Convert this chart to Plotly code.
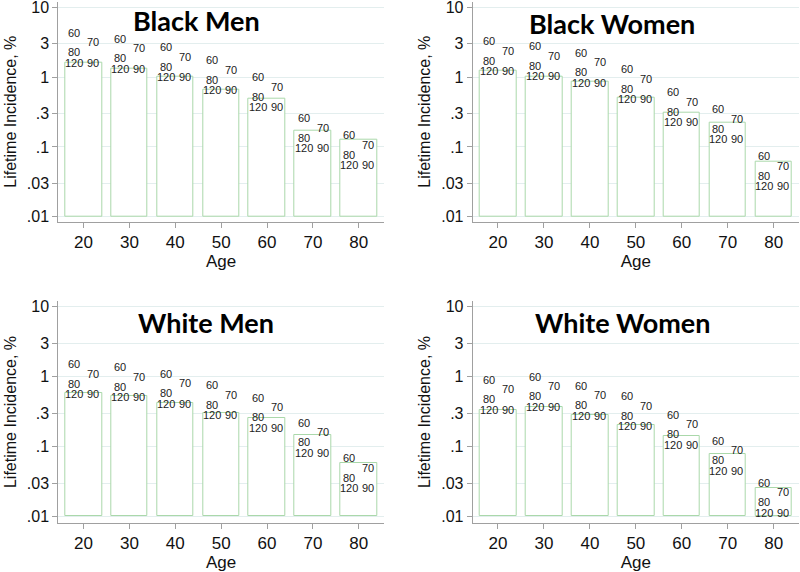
import plotly.graph_objects as go
import math

ages = [20, 30, 40, 50, 60, 70, 80]
panel_titles = ["Black Men", "Black Women", "White Men", "White Women"]

# bar heights (lifetime incidence, %)
black_men_bars = [1.62, 1.33, 1.00, 0.667, 0.495, 0.168, 0.125]
black_women_bars = [1.235, 1.02, 0.859, 0.507, 0.309, 0.219, 0.0614]
white_men_bars = [0.577, 0.523, 0.424, 0.301, 0.253, 0.144, 0.0573]
white_women_bars = [0.338, 0.373, 0.287, 0.206, 0.1435, 0.0792, 0.0258]

# marker-label anchor values (position of the lowest label row)
black_men_lbl = [1.60, 1.32, 1.00, 0.645, 0.372, 0.096, 0.055]
black_women_lbl = [1.22, 1.02, 0.831, 0.479, 0.227, 0.128, 0.0272]
white_men_lbl = [0.558, 0.511, 0.406, 0.282, 0.186, 0.0814, 0.0251]
white_women_lbl = [0.338, 0.369, 0.277, 0.195, 0.1066, 0.0453, 0.0113]

marker_labels = ["60", "70", "80", "120", "90"]

ytick_vals = [0.01, 0.03, 0.1, 0.3, 1, 3, 10]
ytick_text = [".01", ".03", ".1", ".3", "1", "3", "10"]

bars = [black_men_bars, black_women_bars, white_men_bars, white_women_bars]
lbls = [black_men_lbl, black_women_lbl, white_men_lbl, white_women_lbl]

W, H = 800, 572
# panel pixel boxes: (left, right, top, bottom)
boxes = [(58.3, 384, 1.7, 221.7), (472.7, 799, 1.7, 221.7),
         (58.3, 384, 301, 523), (472.7, 799, 301, 523)]
yranges = [[-2.0716, 1.080], [-2.0716, 1.080], [-2.094, 1.082], [-2.094, 1.082]]
title_pos = [(196.7, 20), (611.7, 23.3), (205.8, 322), (623, 322.7)]

# label pixel offsets (dx, dy up)
lbl_off = {"60": (-9.3, 30), "70": (9.7, 20.5), "80": (-9.3, 10.5), "120": (-9.3, 0), "90": (9.7, 0)}

fig = go.Figure()
annotations = []
GREEN = "#aad8aa"
AXC = "#a0a0a0"
GRID = "#e3eeee"
FONT = "Liberation Sans, Arial, sans-serif"

for i in range(4):
    n = "" if i == 0 else str(i + 1)
    xa, ya = "x" + n, "y" + n
    fig.add_trace(go.Bar(
        x=ages, y=[v - 0.01 for v in bars[i]], base=[0.01] * len(ages),
        width=8, marker=dict(color="white", line=dict(color=GREEN, width=1)),
        xaxis=xa, yaxis=ya, showlegend=False, hoverinfo="skip"))
    l, r, t, b = boxes[i]
    fig.layout["xaxis" + n] = dict(
        domain=[l / W, r / W], range=[14.5, 85.5], anchor=ya, automargin=False,
        tickvals=ages, ticks="outside", ticklen=5, tickcolor=AXC, ticklabeloverflow="allow",
        showline=True, linecolor=AXC, linewidth=1, showgrid=False, zeroline=False,
        tickfont=dict(family=FONT, size=17, color="#111"),
        title=dict(text="Age", font=dict(family=FONT, size=17, color="#111"), standoff=2))
    fig.layout["yaxis" + n] = dict(
        domain=[1 - b / H, 1 - t / H], type="log", range=yranges[i], anchor=xa, automargin=False,
        tickvals=ytick_vals, ticktext=ytick_text, ticks="outside", ticklen=5, tickcolor=AXC,
        ticklabeloverflow="allow",
        showline=True, linecolor=AXC, linewidth=1, showgrid=True, gridcolor=GRID,
        zeroline=False, tickfont=dict(family=FONT, size=16, color="#111"),
        title=dict(text="Lifetime Incidence, %", font=dict(family=FONT, size=16, color="#111"), standoff=6))
    for j, a in enumerate(ages):
        for lab in marker_labels:
            dx, dy = lbl_off[lab]
            annotations.append(dict(
                x=a, y=math.log10(lbls[i][j]), xref=xa, yref=ya, text=lab,
                showarrow=False, xshift=dx, yshift=dy, xanchor="center", yanchor="middle",
                font=dict(family=FONT, size=11, color="#222")))
    tx, ty = title_pos[i]
    annotations.append(dict(
        x=tx / W, y=1 - ty / H, xref="paper", yref="paper", text="<b>" + panel_titles[i] + "</b>",
        showarrow=False, xanchor="center", yanchor="middle",
        font=dict(family="Lato, Carlito, sans-serif", size=27, color="black")))

fig.update_layout(
    width=W, height=H, margin=dict(l=0, r=0, t=0, b=0),
    paper_bgcolor="white", plot_bgcolor="white",
    annotations=annotations, bargap=0)
fig.write_html("out.html", config={"displayModeBar": False},
               post_script="document.body.style.margin='0';document.body.style.overflow='hidden';")
